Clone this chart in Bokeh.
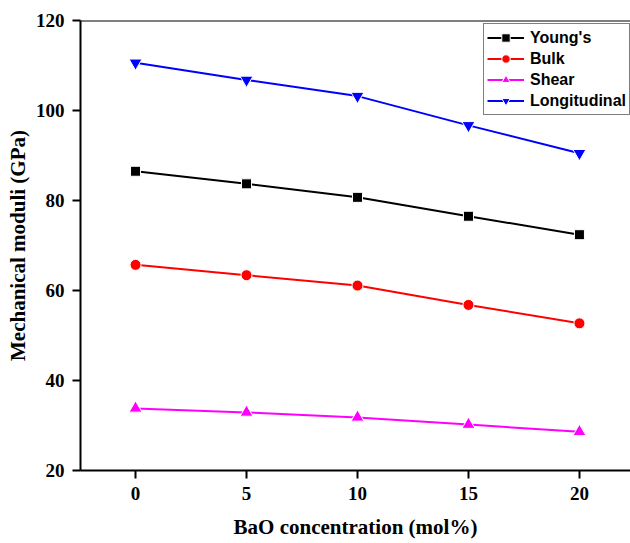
from bokeh.plotting import figure
from bokeh.models import Range1d, FixedTicker, Span, Legend, LegendItem
from bokeh.embed import file_html
from bokeh.resources import INLINE

x = [0, 5, 10, 15, 20]
youngs = [86.5, 83.7, 80.7, 76.5, 72.4]
bulk = [65.7, 63.4, 61.1, 56.8, 52.7]
shear = [33.8, 32.9, 31.8, 30.2, 28.6]
longitudinal = [110.6, 106.8, 103.2, 96.7, 90.5]
x_ticks = [0, 5, 10, 15, 20]
y_ticks = [20, 40, 60, 80, 100, 120]

p = figure(width=630, height=543, output_backend="svg", toolbar_location=None,
           x_range=Range1d(-2.48, 22.3), y_range=Range1d(20, 120),
           min_border_left=80, min_border_right=0, min_border_top=20, min_border_bottom=73)
p.outline_line_color = None
p.grid.visible = False
p.background_fill_color = "white"

p.add_layout(Span(location=120, dimension="width", line_color="black", line_width=2))

series = [
    ("Young's", youngs, "black", "square", 10),
    ("Bulk", bulk, "#ff0000", "circle", 11),
    ("Shear", shear, "#ff00ff", "triangle", 13),
    ("Longitudinal", longitudinal, "#0000ff", "inverted_triangle", 13),
]
items = []
for name, ys, col, mk, sz in series:
    l = p.line(x, ys, line_color=col, line_width=2)
    s = p.scatter(x, ys, marker=mk, size=sz, fill_color=col, line_color="white", line_width=1)
    items.append(LegendItem(label=name, renderers=[l, s]))

leg = Legend(items=items, location=(403, 355))
leg.border_line_color = "black"
leg.border_line_width = 1
leg.label_text_font = "Liberation Sans"
leg.label_text_font_style = "bold"
leg.label_text_font_size = "16px"
leg.label_text_color = "black"
leg.label_height = 21
leg.glyph_height = 21
leg.glyph_width = 37
leg.label_standoff = 6
leg.padding = 3
leg.spacing = 0
leg.margin = 0
p.add_layout(leg, "center")

for ax in (p.xaxis[0], p.yaxis[0]):
    ax.axis_line_width = 2
    ax.axis_line_color = "black"
    ax.major_tick_line_width = 2
    ax.major_tick_line_color = "black"
    ax.major_tick_out = 8
    ax.major_tick_in = 0
    ax.minor_tick_out = 0
    ax.minor_tick_in = 0
    ax.major_label_text_font = "Liberation Serif"
    ax.major_label_text_font_style = "bold"
    ax.major_label_text_font_size = "19px"
    ax.major_label_text_color = "black"
    ax.axis_label_text_font = "Liberation Serif"
    ax.axis_label_text_font_style = "bold"
    ax.axis_label_text_font_size = "21px"
    ax.axis_label_text_color = "black"
    ax.major_label_standoff = 8

p.xaxis.ticker = FixedTicker(ticks=x_ticks)
p.yaxis.ticker = FixedTicker(ticks=y_ticks)
p.xaxis.axis_label = "BaO concentration (mol%)"
p.yaxis.axis_label = "Mechanical moduli (GPa)"
p.xaxis.axis_label_standoff = 12
p.yaxis.axis_label_standoff = 3

open("out.html", "w").write(file_html(p, INLINE))
